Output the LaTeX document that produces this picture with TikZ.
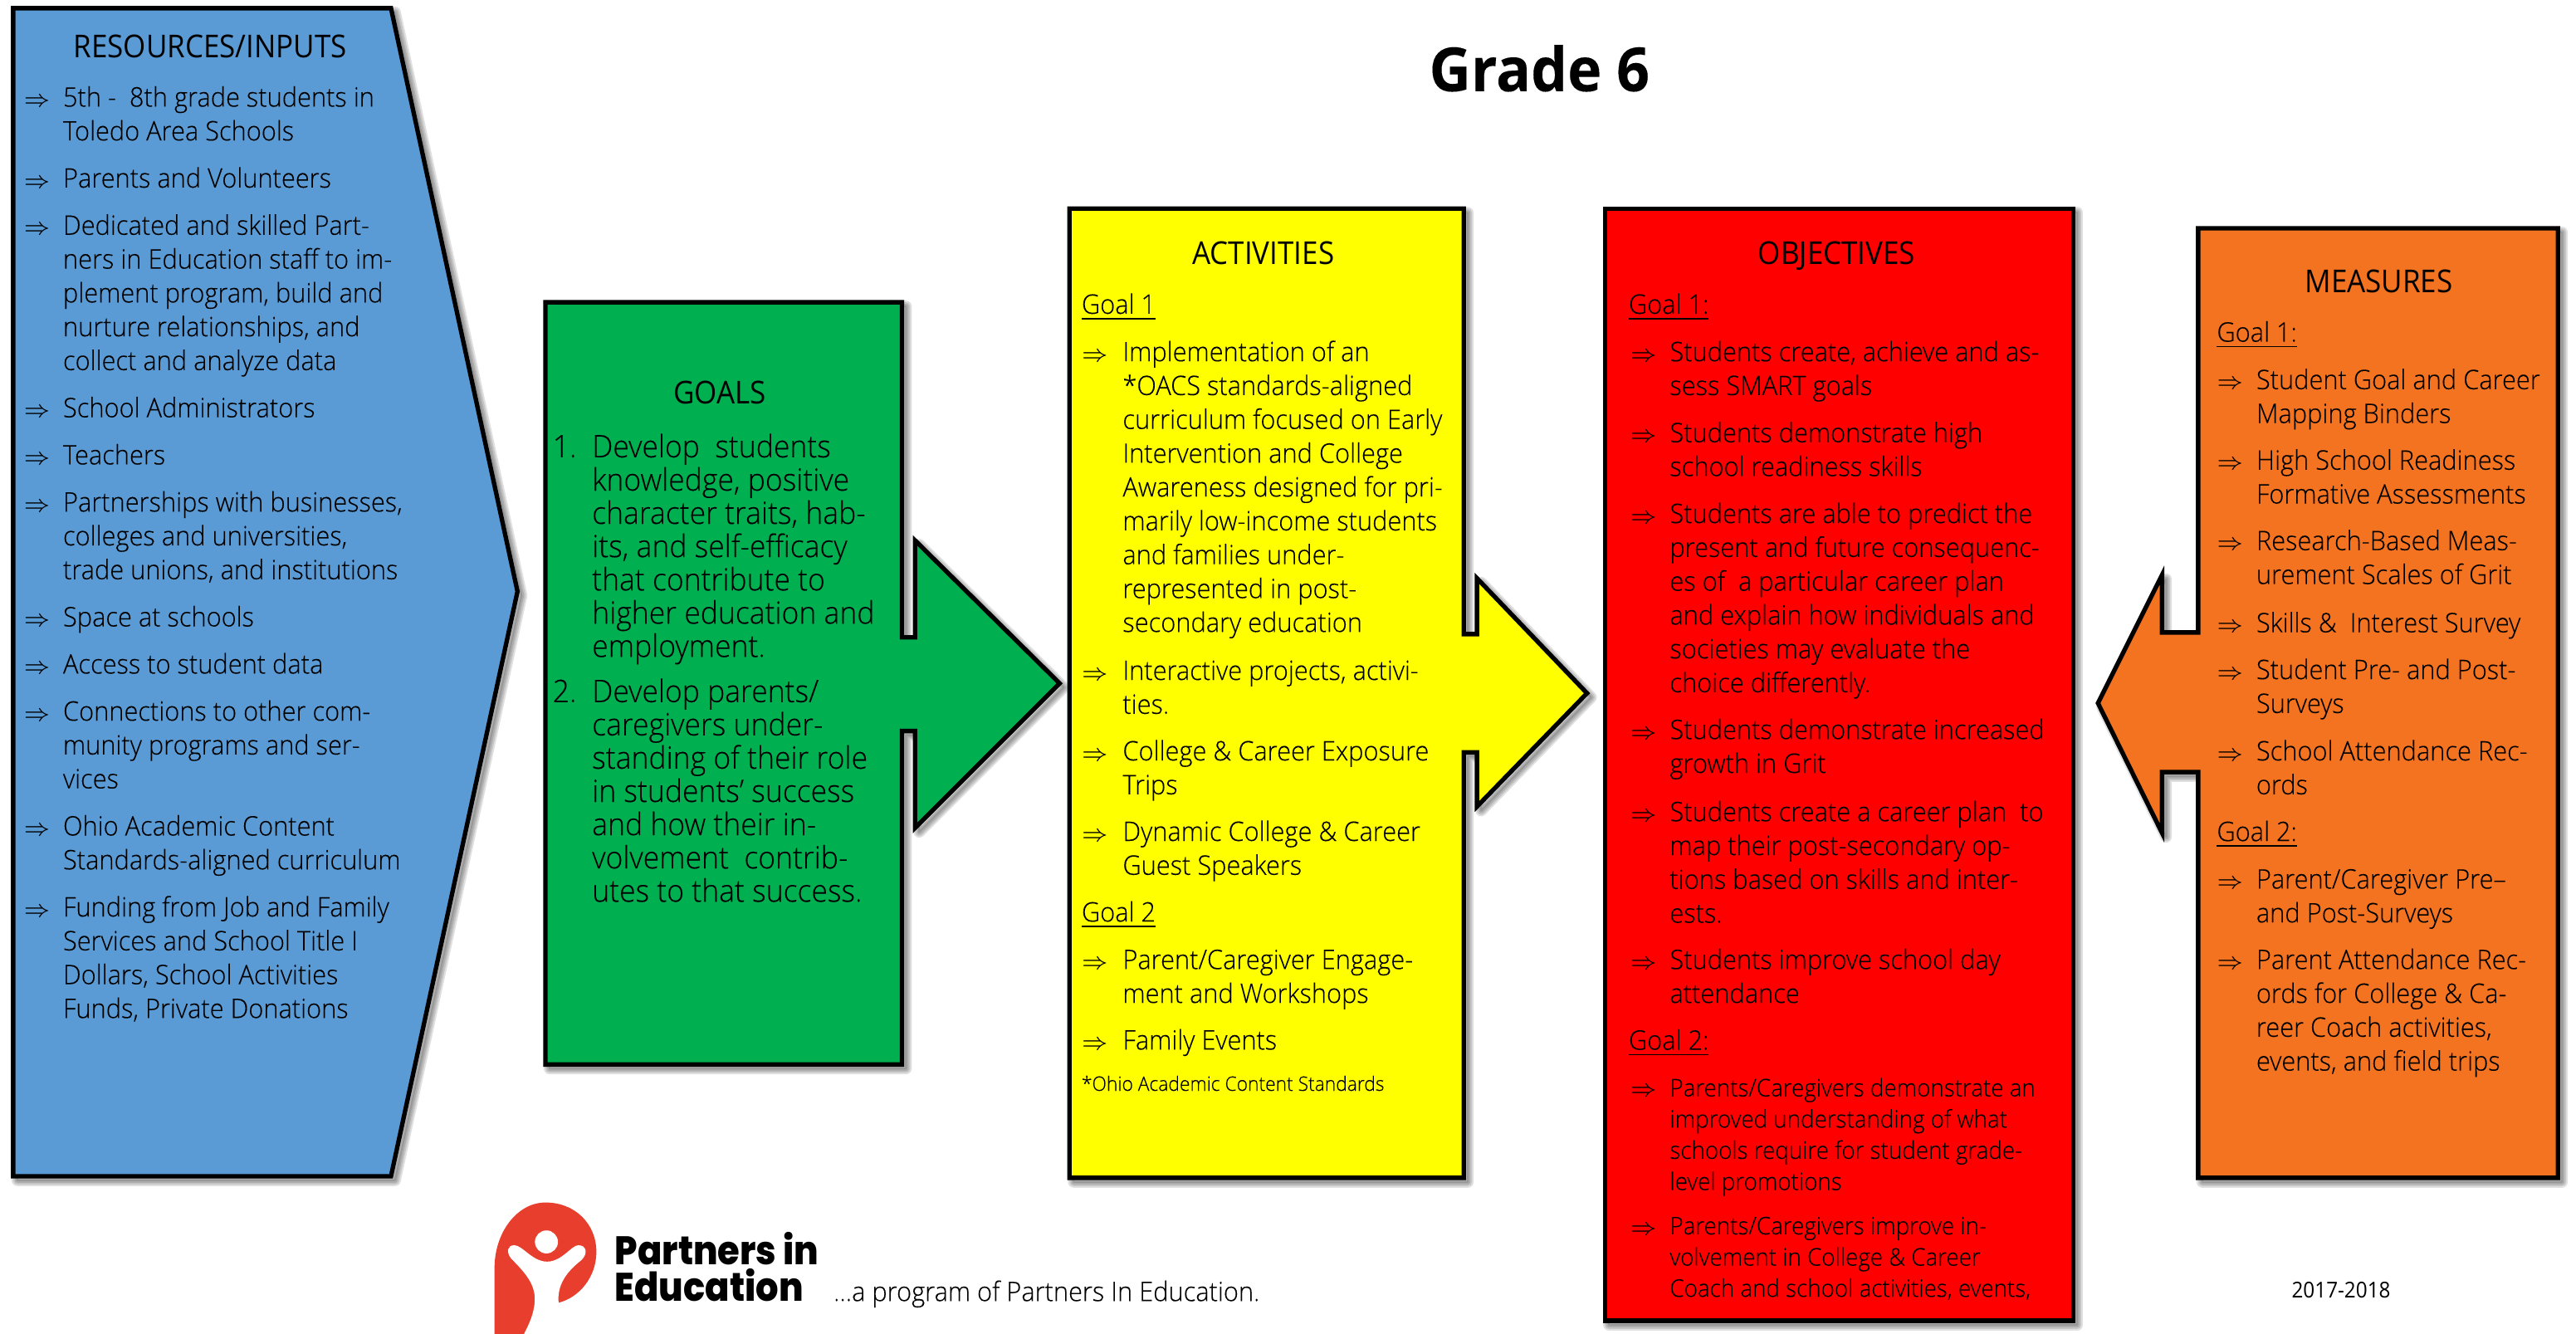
\documentclass[tikz,border=0pt]{standalone}
\usepackage{fontspec}
\setmainfont{Open Sans Light}[BoldFont={Open Sans Bold},FakeStretch=0.95,FakeBold=0.12]
\newfontfamily\headfont{Open Sans}[FakeStretch=0.92]
\newfontfamily\logofont{Poppins ExtraBold}[FakeStretch=0.9]
\definecolor{cblue}{HTML}{5B9BD5}
\definecolor{cgreen}{HTML}{00B050}
\definecolor{cyellow}{HTML}{FFFF00}
\definecolor{cred}{HTML}{FF0000}
\definecolor{corange}{HTML}{F47321}
\definecolor{clogo}{HTML}{E83E2D}
\newlength\unt \setlength\unt{0.49474pt}
\newcommand\bodyf{\fontsize{8.1}{10.19}\selectfont}
\newcommand\goalf{\fontsize{9.35}{10.02}\selectfont}
\newcommand\smallf{\fontsize{7.3}{9.4}\selectfont}
\newcommand\titlef{\headfont\fontsize{9.5}{11}\selectfont}
\newcommand\topstrut{\rule{0pt}{10pt}}
\tikzset{
 x=0.49474pt,y=-0.49474pt,
 outline/.style={draw=black,line width=2.7\unt,line join=miter,miter limit=10},
 shad/.style={black,opacity=.12,line join=round,shift={(2.5,2.5)}},
 tline/.style={inner sep=0pt,anchor=north west,align=left,yshift=10.25pt},
 bodytxt/.style={tline,font=\bodyf},
 goaltxt/.style={tline,font=\goalf},
 smalltxt/.style={tline,font=\smallf},
 bul/.style={inner sep=0pt,anchor=base west,font=\fontsize{7}{8}\selectfont},
 head/.style={inner sep=0pt,anchor=base,font=\titlef},
 gl/.style={inner sep=0pt,anchor=base west,font=\bodyf},
}
% shape with soft shadow
\newcommand\shp[2]{%
 \foreach \w in {7,5,3,1}{\draw[shad,line width=\w\unt] #2 -- cycle;}
 \draw[outline,fill=#1] #2 -- cycle;
}
% item: name, bullet x, text x, first baseline, text
\newcommand\itm[6][bodytxt]{%
 \node[bul] (#2b) at (#3,#5) {$\Rightarrow$};
 \node[#1] (#2) at (#4,#5) {\topstrut #6};
}
\begin{document}
\begin{tikzpicture}
\useasboundingbox (0,0) rectangle (1568,812);
\shp{cblue}{(8,5) -- (238,5) -- (315,360) -- (238,716) -- (8,716)}
\shp{cgreen}{(332,184) -- (549,184) -- (549,388) -- (557,388) -- (557,329) -- (645,416) -- (557,504) -- (557,445) -- (549,445) -- (549,648) -- (332,648)}
\shp{cyellow}{(651,127) -- (891,127) -- (891,386) -- (899,386) -- (899,352) -- (966,422) -- (899,491) -- (899,458) -- (891,458) -- (891,717) -- (651,717)}
\shp{cred}{(977,127) -- (1262,127) -- (1262,804) -- (977,804)}
\shp{corange}{(1338,139) -- (1557,139) -- (1557,717) -- (1338,717) -- (1338,470) -- (1316,470) -- (1316,507) -- (1277,428) -- (1316,350) -- (1316,385) -- (1338,385)}

\node[inner sep=0pt,anchor=base,font=\fontsize{18.3}{22}\selectfont\bfseries] (title) at (937,55.5) {Grade 6};

% Resources
\node[head] (rt) at (128,35) {RESOURCES/INPUTS};
\itm{r1}{14}{38}{65}{5th -\ \ 8th grade students in\\Toledo Area Schools}
\itm{r2}{14}{38}{114.3}{Parents and Volunteers}
\itm{r3}{14}{38}{143}{Dedicated and skilled Part-\\ners in Education staff to im-\\plement program, build and\\nurture relationships, and\\collect and analyze data}
\itm{r4}{14}{38}{254.1}{School Administrators}
\itm{r5}{14}{38}{282.8}{Teachers}
\itm{r6}{14}{38}{311.5}{Partnerships with businesses,\\colleges and universities,\\trade unions, and institutions}
\itm{r7}{14}{38}{381.4}{Space at schools}
\itm{r8}{14}{38}{410.1}{Access to student data}
\itm{r9}{14}{38}{438.8}{Connections to other com-\\munity programs and ser-\\vices}
\itm{r10}{14}{38}{508.7}{Ohio Academic Content\\Standards-aligned curriculum}
\itm{r11}{14}{38}{558}{Funding from Job and Family\\Services and School Title I\\Dollars, School Activities\\Funds, Private Donations}

% Goals
\node[head] (gt) at (438,246) {GOALS};
\node[goaltxt] (g1n) at (336,278.5) {\topstrut 1.};
\node[goaltxt] (g1) at (360,278.5) {\topstrut Develop\ \ students\\knowledge, positive\\character traits, hab-\\its, and self-efficacy\\that contribute to\\higher education and\\employment.};
\node[goaltxt] (g2n) at (336,427.5) {\topstrut 2.};
\node[goaltxt] (g2) at (360,427.5) {\topstrut Develop parents/\\caregivers under-\\standing of their role\\in students' success\\and how their in-\\volvement\ \ contrib-\\utes to that success.};

% Activities
\node[head] (at) at (769,161) {ACTIVITIES};
\node[gl] (ag1) at (658,191) {\underline{Goal 1}};
\itm{a1}{658}{683}{220}{Implementation of an\\*OACS standards-aligned\\curriculum focused on Early\\Intervention and College\\Awareness designed for pri-\\marily low-income students\\and families under-\\represented in post-\\secondary education}
\itm{a2}{658}{683}{414}{Interactive projects, activi-\\ties.}
\itm{a3}{658}{683}{463}{College \& Career Exposure\\Trips}
\itm{a4}{658}{683}{512}{Dynamic College \& Career\\Guest Speakers}
\node[gl] (ag2) at (658,561) {\underline{Goal 2}};
\itm{a5}{658}{683}{590}{Parent/Caregiver Engage-\\ment and Workshops}
\itm{a6}{658}{683}{639}{Family Events}
\node[inner sep=0pt,anchor=base west,font=\fontsize{6}{7}\selectfont] (afn) at (658,664) {*Ohio Academic Content Standards};

% Objectives
\node[head] (ot) at (1118,161) {OBJECTIVES};
\node[gl] (og1) at (991,191) {\underline{Goal 1:}};
\itm{o1}{992}{1016}{220}{Students create, achieve and as-\\sess SMART goals}
\itm{o2}{992}{1016}{269.3}{Students demonstrate high\\school readiness skills}
\itm{o3}{992}{1016}{318.5}{Students are able to predict the\\present and future consequenc-\\es of\ \ a particular career plan\\and explain how individuals and\\societies may evaluate the\\choice differently.}
\itm{o4}{992}{1016}{450}{Students demonstrate increased\\growth in Grit}
\itm{o5}{992}{1016}{500}{Students create a career plan\ \ to\\map their post-secondary op-\\tions based on skills and inter-\\ests.}
\itm{o6}{992}{1016}{590}{Students improve school day\\attendance}
\node[gl] (og2) at (991,639) {\underline{Goal 2:}};
\itm[smalltxt]{o7}{992}{1016}{667.5}{Parents/Caregivers demonstrate an\\improved understanding of what\\schools require for student grade-\\level promotions}
\itm[smalltxt]{o8}{992}{1016}{751.5}{Parents/Caregivers improve in-\\volvement in College \& Career\\Coach and school activities, events,}

% Measures
\node[head] (mt) at (1448,178) {MEASURES};
\node[gl] (mg1) at (1349,208) {\underline{Goal 1:}};
\itm{m1}{1349}{1373}{237}{Student Goal and Career\\Mapping Binders}
\itm{m2}{1349}{1373}{286}{High School Readiness\\Formative Assessments}
\itm{m3}{1349}{1373}{335}{Research-Based Meas-\\urement Scales of Grit}
\itm{m4}{1349}{1373}{385}{Skills \&\ \ Interest Survey}
\itm{m5}{1349}{1373}{413.5}{Student Pre- and Post-\\Surveys}
\itm{m6}{1349}{1373}{463}{School Attendance Rec-\\ords}
\node[gl] (mg2) at (1349,512) {\underline{Goal 2:}};
\itm{m7}{1349}{1373}{541}{Parent/Caregiver Pre–\\and Post-Surveys}
\itm{m8}{1349}{1373}{590}{Parent Attendance Rec-\\ords for College \& Ca-\\reer Coach activities,\\events, and field trips}

% Logo
\fill[clogo] (301,812) -- (301,772) .. controls (301,750) and (315,732) .. (332,732) .. controls (350,732) and (363,745) .. (363,762) .. controls (363,778) and (352,790) .. (340,793) -- (330,812) -- cycle;
\fill[white] (340,793) .. controls (339,782) and (345,774) .. (354,767) .. controls (358,763) and (357,758) .. (352,758) .. controls (348,758) and (342,768) .. (333,768) .. controls (324,768) and (318,758) .. (313,758) .. controls (309,758) and (308,762) .. (311,766) .. controls (320,775) and (326,782) .. (325.5,792) .. controls (325,800) and (322,806) .. (319,812) -- (340,812) -- cycle;
\fill[white] (332.6,756) circle[radius=7];
\node[inner sep=0pt,anchor=base west,font=\logofont\fontsize{12}{13}\selectfont] (lg1) at (374,770) {Partners in};
\node[inner sep=0pt,anchor=base west,font=\logofont\fontsize{12}{13}\selectfont] (lg2) at (374,792) {Education};
\node[inner sep=0pt,anchor=base west,font=\bodyf] (prog) at (507,792) {...a program of Partners In Education.};
\node[inner sep=0pt,anchor=base,font=\headfont\fontsize{6.6}{8}\selectfont] (yr) at (1425,790) {2017-2018};
\end{tikzpicture}
\end{document}
